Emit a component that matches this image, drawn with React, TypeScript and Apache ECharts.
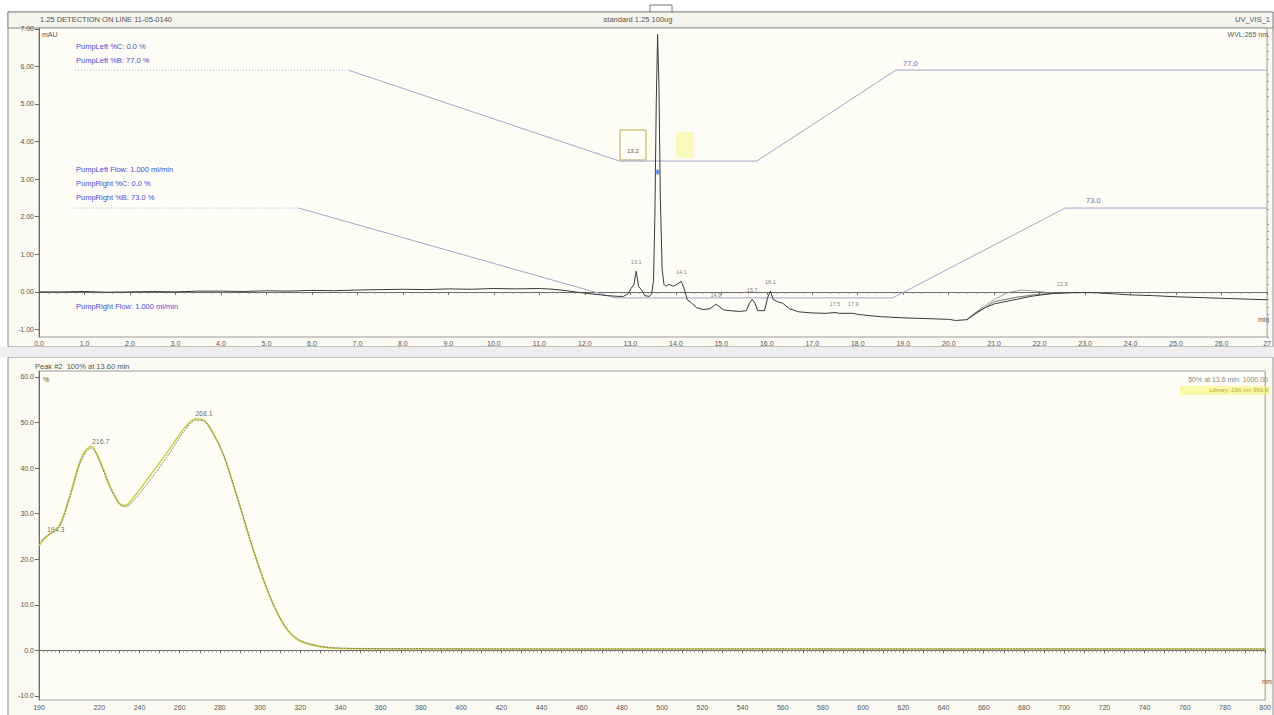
import React, { useEffect, useRef } from "react";
import * as echarts from "echarts";

// ---------- chromatogram (UV_VIS_1) ----------
const chromTime = [
  0, 0.5, 1.0, 1.5, 2.0, 2.5, 3.0, 3.5, 4.0, 4.5, 5.0, 5.5, 6.0, 6.5, 7.0, 7.5, 8.0, 8.5, 9.0, 9.5,
  10.0, 10.5, 11.0, 11.3, 11.6, 11.9, 12.2, 12.5, 12.75, 12.85, 12.95, 13.02, 13.08, 13.13, 13.18,
  13.25, 13.32, 13.42, 13.47, 13.51, 13.54, 13.57, 13.6, 13.63, 13.66, 13.7, 13.74, 13.78, 13.85,
  13.95, 14.05, 14.12, 14.18, 14.25, 14.35, 14.46, 14.6, 14.75, 14.88, 14.95, 15.05, 15.2, 15.4,
  15.55, 15.62, 15.68, 15.74, 15.8, 15.95, 16.02, 16.08, 16.14, 16.25, 16.35, 16.5, 16.7, 17.0,
  17.3, 17.5, 17.6, 17.9, 18.0, 18.5, 19.0, 19.5, 20.0, 20.15, 20.4, 20.6, 20.8, 21.0, 21.4, 21.8,
  22.3, 22.8, 23.2, 23.6, 24.0, 24.5, 25.0, 25.5, 26.0, 26.5, 27.0,
];
const chromValue = [
  0.0, 0.0, 0.01, -0.01, 0.0, 0.01, 0.0, 0.02, 0.02, 0.01, 0.03, 0.02, 0.04, 0.03, 0.05, 0.06, 0.07,
  0.06, 0.08, 0.07, 0.09, 0.08, 0.09, 0.07, 0.03, -0.02, -0.06, -0.1, -0.12, -0.12, -0.05, 0.1, 0.2,
  0.55, 0.15, 0.05, -0.1, -0.12, -0.05, 0.3, 2.0, 5.0, 6.85, 5.5, 2.5, 0.6, 0.2, 0.15, 0.2, 0.15,
  0.22, 0.28, 0.1, -0.2, -0.3, -0.42, -0.47, -0.45, -0.33, -0.38, -0.48, -0.5, -0.52, -0.5, -0.3,
  -0.2, -0.3, -0.5, -0.5, -0.15, 0.02, -0.2, -0.27, -0.3, -0.45, -0.53, -0.56, -0.57, -0.55, -0.57,
  -0.57, -0.6, -0.66, -0.69, -0.71, -0.73, -0.76, -0.74, -0.55, -0.42, -0.32, -0.22, -0.12, -0.04,
  -0.02, -0.02, -0.05, -0.08, -0.1, -0.13, -0.15, -0.17, -0.19, -0.21,
];
const trace2Time = [20.4, 20.7, 21.0, 21.3, 21.6, 21.9, 22.2, 22.5];
const trace2Value = [-0.74, -0.45, -0.2, -0.02, 0.05, 0.02, -0.02, -0.03];
const trace3Time = [20.4, 20.7, 21.0, 21.5, 22.0, 22.5];
const trace3Value = [-0.74, -0.5, -0.26, -0.14, -0.06, -0.03];

// ---------- pump gradient profiles ----------
const gradLeftDotTime = [0.79, 6.8];
const gradLeftDotValue = [5.9, 5.9];
const gradLeftTime = [6.8, 12.76, 15.78, 18.84, 27.0];
const gradLeftValue = [5.9, 3.48, 3.48, 5.9, 5.9];
const gradRightDotTime = [0.79, 5.71];
const gradRightDotValue = [2.23, 2.23];
const gradRightTime = [5.71, 12.67, 18.77, 22.56, 27.0];
const gradRightValue = [2.23, -0.16, -0.16, 2.23, 2.23];

// peak annotations
const peakTime = [13.13, 13.6, 14.12, 14.88, 15.68, 16.08, 17.5, 17.9, 22.5];
const peakValue = [0.55, 6.85, 0.28, -0.33, -0.2, 0.02, -0.55, -0.57, -0.03];
const peakName = ["13.1", "", "14.1", "14.9", "15.7", "16.1", "17.5", "17.9", "22.5"];

// ---------- UV spectrum (Peak #2) ----------
const specNm = [
  190, 194, 200, 205, 210, 213, 216, 220, 225, 230, 233, 237, 245, 255, 262, 268, 272, 276, 282, 290,
  296, 302, 308, 314, 320, 330, 340, 360, 400, 450, 500, 550, 600, 650, 700, 750, 800,
];
const specSample = [
  23.6, 25.2, 27.0, 33.0, 40.5, 43.3, 44.4, 41.6, 36.0, 32.0, 31.5, 32.8, 37.2, 43.3, 48.0, 50.5,
  50.3, 48.0, 42.7, 31.7, 23.0, 15.3, 8.8, 4.4, 2.2, 0.9, 0.5, 0.4, 0.35, 0.3, 0.3, 0.35, 0.3, 0.3,
  0.35, 0.3, 0.3,
];
const specLibrary = [
  23.0, 25.0, 27.3, 33.5, 41.0, 43.8, 44.8, 42.0, 36.4, 32.3, 31.8, 33.5, 38.2, 44.2, 48.6, 50.8,
  50.5, 48.2, 42.6, 31.5, 22.8, 15.0, 8.6, 4.2, 2.0, 0.8, 0.4, 0.3, 0.3, 0.3, 0.3, 0.3, 0.3, 0.3,
  0.3, 0.3, 0.3,
];
const specPeakNm = [194.3, 216.7, 268.1];
const specPeakVal = [25.2, 44.4, 50.5];

// ---------- ticks ----------
const topYTicks = [-1, 0, 1, 2, 3, 4, 5, 6, 7];
const topYMinor = [
  -1.2, -0.8, -0.6, -0.4, -0.2, 0.2, 0.4, 0.6, 0.8, 1.2, 1.4, 1.6, 1.8, 2.2, 2.4, 2.6, 2.8, 3.2, 3.4,
  3.6, 3.8, 4.2, 4.4, 4.6, 4.8, 5.2, 5.4, 5.6, 5.8, 6.2, 6.4, 6.6, 6.8,
];
const botYTicks = [-10, 0, 10, 20, 30, 40, 50, 60];
const botXLabels = [
  190, 220, 240, 260, 280, 300, 320, 340, 360, 380, 400, 420, 440, 460, 480, 500, 520, 540, 560, 580,
  600, 620, 640, 660, 680, 700, 720, 740, 760, 780, 800,
];

const pair = (a: number[], b: number[]) => a.map((x, i) => [x, b[i]]);

const FONT = "Liberation Sans";
const AX = "#6a6a6a";
const BLUE = "#4b4bd6";
const GRAD = "#a4a4c8";

export default function App() {
  const ref = useRef<HTMLDivElement>(null);
  useEffect(() => {
    if (!ref.current) return;
    const chart = echarts.init(ref.current, undefined, { renderer: "svg" });
    const small = { fontFamily: FONT, fontSize: 7, fill: "#555" };
    const pump = { fontFamily: FONT, fontSize: 7.5, fill: BLUE };
    chart.setOption({
      animation: false,
      backgroundColor: "#ffffff",
      grid: [
        { left: 39, top: 28, width: 1234, height: 309, show: true, backgroundColor: "#fefdf5", borderColor: "#9a9a9a", borderWidth: 1 },
        { left: 39, top: 371, width: 1233, height: 329, show: true, backgroundColor: "#fefdf5", borderColor: "#9a9a9a", borderWidth: 1 },
      ],
      xAxis: [
        {
          type: "value", gridIndex: 0, min: 0, max: 27, interval: 1,
          axisLine: { lineStyle: { color: AX } },
          axisTick: { length: 3, lineStyle: { color: AX } },
          minorTick: { show: true, splitNumber: 5, length: 2, lineStyle: { color: "#999" } },
          splitLine: { show: false },
          axisLabel: { fontFamily: FONT, fontSize: 7, color: "#555", margin: 3, formatter: (v: number) => (v === 27 ? "27" : v.toFixed(1)) },
        },
        {
          type: "value", gridIndex: 1, min: 190, max: 800, interval: 10,
          axisLine: { lineStyle: { color: AX } },
          axisTick: { length: 3, lineStyle: { color: AX } },
          minorTick: { show: true, splitNumber: 5, length: 2, lineStyle: { color: "#999" } },
          splitLine: { show: false },
          axisLabel: { customValues: botXLabels, fontFamily: FONT, fontSize: 7, color: "#555", margin: 4 },
        },
      ],
      yAxis: [
        {
          type: "value", gridIndex: 0, min: -1.2, max: 7.02,
          axisLine: { show: true, lineStyle: { color: AX } },
          axisTick: { show: true, customValues: topYTicks, length: 4, lineStyle: { color: AX } },
          splitLine: { show: false },
          axisLabel: { customValues: topYTicks, fontFamily: FONT, fontSize: 7, color: "#555", margin: 5, formatter: (v: number) => v.toFixed(2) },
        },
        {
          type: "value", gridIndex: 1, min: -10.9, max: 61.3,
          axisLine: { show: true, lineStyle: { color: AX } },
          axisTick: { show: true, customValues: botYTicks, length: 4, lineStyle: { color: AX } },
          splitLine: { show: false },
          axisLabel: { customValues: botYTicks, fontFamily: FONT, fontSize: 7, color: "#555", margin: 5, formatter: (v: number) => v.toFixed(1) },
        },
        {
          type: "value", gridIndex: 0, min: -1.2, max: 7.02,
          axisLine: { show: false },
          axisTick: { show: true, customValues: topYMinor, length: 2, lineStyle: { color: "#999" } },
          axisLabel: { show: false },
          splitLine: { show: false },
        },
      ],
      series: [
        { type: "line", xAxisIndex: 0, yAxisIndex: 0, data: pair(gradLeftDotTime, gradLeftDotValue), symbol: "none", lineStyle: { color: GRAD, width: 1, type: [1, 2] } },
        { type: "line", xAxisIndex: 0, yAxisIndex: 0, data: pair(gradLeftTime, gradLeftValue), symbol: "none", lineStyle: { color: GRAD, width: 1 } },
        { type: "line", xAxisIndex: 0, yAxisIndex: 0, data: pair(gradRightDotTime, gradRightDotValue), symbol: "none", lineStyle: { color: GRAD, width: 1, type: [1, 2] } },
        { type: "line", xAxisIndex: 0, yAxisIndex: 0, data: pair(gradRightTime, gradRightValue), symbol: "none", lineStyle: { color: GRAD, width: 1 } },
        { type: "line", xAxisIndex: 0, yAxisIndex: 0, data: pair(trace2Time, trace2Value), symbol: "none", lineStyle: { color: "#8a8a80", width: 0.8 } },
        { type: "line", xAxisIndex: 0, yAxisIndex: 0, data: pair(trace3Time, trace3Value), symbol: "none", lineStyle: { color: "#55554d", width: 0.8 } },
        { type: "line", xAxisIndex: 0, yAxisIndex: 0, data: pair(chromTime, chromValue), symbol: "none", lineStyle: { color: "#3a3a3a", width: 1 }, z: 5 },
        {
          type: "scatter", xAxisIndex: 0, yAxisIndex: 0, symbolSize: 0,
          data: peakTime.map((t, i) => ({ value: [t, peakValue[i]], label: { formatter: peakName[i] } })),
          label: { show: true, position: "top", distance: 6, fontFamily: FONT, fontSize: 5.5, color: "#555" },
        },
        {
          type: "scatter", xAxisIndex: 0, yAxisIndex: 0, symbol: "diamond", symbolSize: 6,
          itemStyle: { color: "#3c7fe0" }, data: [[13.6, 3.19]], z: 6,
        },
        { type: "line", xAxisIndex: 1, yAxisIndex: 1, data: pair(specNm, specLibrary), symbol: "none", smooth: 0.3, lineStyle: { color: "#cccb45", width: 1.5 } },
        { type: "line", xAxisIndex: 1, yAxisIndex: 1, data: pair(specNm, specSample), symbol: "none", smooth: 0.3, lineStyle: { color: "#6c6c58", width: 0.8, type: [2, 1] }, z: 5 },
        {
          type: "scatter", xAxisIndex: 1, yAxisIndex: 1, symbolSize: 0,
          data: pair(specPeakNm, specPeakVal),
          label: { show: true, position: "top", distance: 3, offset: [8, 0], fontFamily: FONT, fontSize: 7, color: "#444", formatter: (p: any) => p.value[0].toFixed(1) },
        },
      ],
      graphic: [
        // frames
        { type: "rect", z: -10, shape: { x: 8, y: 12, width: 1265, height: 335 }, style: { fill: "#fbfaf2", stroke: "#8a8a8a", lineWidth: 1 } },
        { type: "rect", z: -10, shape: { x: 8, y: 12, width: 1265, height: 16 }, style: { fill: "#f4f3ec", stroke: "#8a8a8a", lineWidth: 1 } },
        { type: "rect", z: -10, shape: { x: 8, y: 357, width: 1265, height: 360 }, style: { fill: "#fbfaf2", stroke: "#8a8a8a", lineWidth: 1 } },
        { type: "rect", z: -10, shape: { x: 0, y: 347, width: 1274, height: 10 }, style: { fill: "#eeeeee" } },
        // headers
        { type: "text", x: 40, y: 15, style: { text: "1.25 DETECTION ON LINE 11-05-0140", ...small, fontSize: 7.5 } },
        { type: "text", x: 638, y: 15, style: { text: "standard 1.25 100ug", ...small, fontSize: 7.5, align: "center" } },
        { type: "text", x: 1270, y: 15, style: { text: "UV_VIS_1", ...small, fontSize: 7.5, align: "right" } },
        { type: "text", x: 42, y: 31, style: { text: "mAU", ...small } },
        { type: "text", x: 1268, y: 31, style: { text: "WVL:265 nm", ...small, align: "right" } },
        { type: "text", x: 1258, y: 316, style: { text: "min", ...small } },
        // peak box at apex
        { type: "polyline", shape: { points: [[650, 12], [650, 5], [672, 5], [672, 12]] }, style: { stroke: "#555", lineWidth: 0.8, fill: "none" } },
        // pump annotations
        { type: "text", x: 76, y: 42, style: { text: "PumpLeft %C: 0.0 %", ...pump } },
        { type: "text", x: 76, y: 56, style: { text: "PumpLeft %B: 77.0 %", ...pump } },
        { type: "text", x: 76, y: 165, style: { text: "PumpLeft Flow: 1.000 ml/min", ...pump } },
        { type: "text", x: 76, y: 179, style: { text: "PumpRight %C: 0.0 %", ...pump } },
        { type: "text", x: 76, y: 193, style: { text: "PumpRight %B: 73.0 %", ...pump } },
        { type: "text", x: 76, y: 302, style: { text: "PumpRight Flow: 1.000 ml/min", ...pump } },
        { type: "text", x: 903, y: 59, style: { text: "77.0", ...pump, fill: "#6a6aa8" } },
        { type: "text", x: 1086, y: 196, style: { text: "73.0", ...pump, fill: "#6a6aa8" } },
        // small box near peak
        { type: "rect", shape: { x: 620, y: 130, width: 26, height: 30 }, style: { fill: "none", stroke: "#b8a850", lineWidth: 1 } },
        { type: "text", x: 627, y: 148, style: { text: "13.2", ...small, fontSize: 6 } },
        { type: "rect", shape: { x: 676, y: 132, width: 18, height: 26 }, style: { fill: "rgba(250,245,120,0.45)" } },
        // spectrum panel texts
        { type: "text", x: 35, y: 362, style: { text: "Peak #2  100% at 13.60 min", ...small, fontSize: 7.5 } },
        { type: "text", x: 43, y: 376, style: { text: "%", ...small } },
        { type: "text", x: 1268, y: 376, style: { text: "50% at 13.6 min: 1000.00", ...small, align: "right", fill: "#888" } },
        { type: "rect", shape: { x: 1180, y: 386, width: 90, height: 9 }, style: { fill: "rgba(250,245,120,0.6)" } },
        { type: "text", x: 1268, y: 387, style: { text: "Library: 266 nm 999.9", ...small, fontSize: 6, align: "right", fill: "#b0a830" } },
        { type: "text", x: 1262, y: 678, style: { text: "nm", ...small } },
      ],
    });
    return () => chart.dispose();
  }, []);
  return <div ref={ref} style={{ position: "fixed", left: 0, top: 0, width: 1274, height: 715 }} />;
}
